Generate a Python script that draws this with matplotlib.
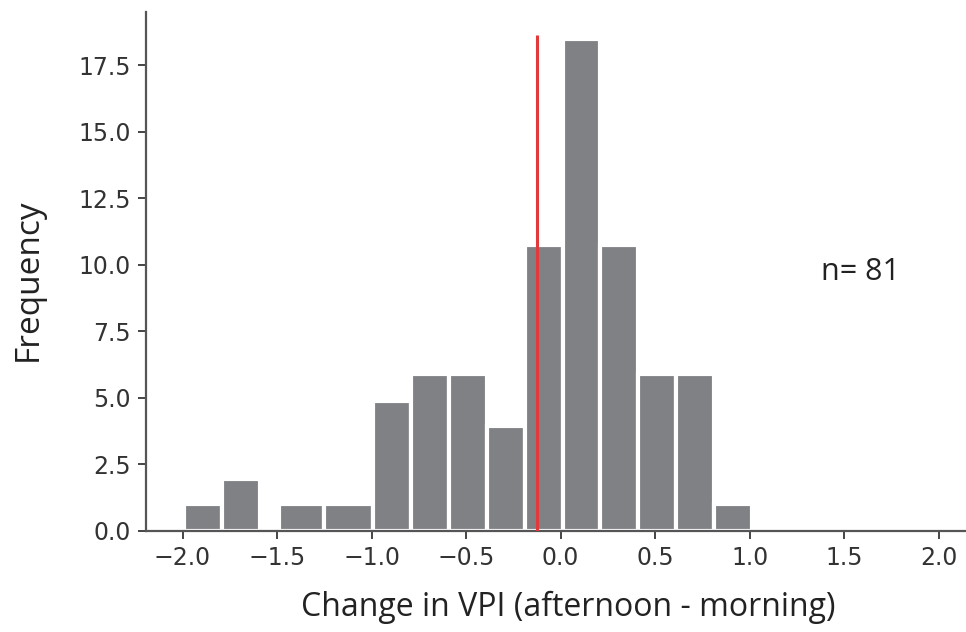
import numpy as np
import matplotlib
matplotlib.use("Agg")
import matplotlib.pyplot as plt

# bin edges of the VPI change histogram and the count in each bin
bin_edges = [-1.99, -1.79, -1.59, -1.49, -1.25, -0.99, -0.79, -0.59, -0.39,
             -0.19, 0.01, 0.21, 0.41, 0.61, 0.81, 1.01]
counts = [1.0, 1.95, 0.0, 1.0, 1.0, 4.9, 5.9, 5.9, 3.95,
          10.75, 18.5, 10.75, 5.9, 5.9, 1.0]
x_ticks = [-2.0, -1.5, -1.0, -0.5, 0.0, 0.5, 1.0, 1.5, 2.0]
y_ticks = [0.0, 2.5, 5.0, 7.5, 10.0, 12.5, 15.0, 17.5]

mean_change = -0.124
mean_line_top = 18.65
n_samples = 81

plt.rcParams["font.family"] = ["DejaVu Sans"]

fig = plt.figure(figsize=(9.66, 6.32), dpi=100)
ax = fig.add_axes([0.151, 0.160, 0.848, 0.821])

edges = np.array(bin_edges)
ax.hist(edges[:-1], bins=edges, weights=counts, color="#808185",
        edgecolor="white", linewidth=3.0)
ax.vlines(mean_change, 0, mean_line_top, color="#e2393b", linewidth=2.2, zorder=3)

ax.set_xlim(-2.194, 2.139)
ax.set_ylim(0, 19.51)
ax.set_xticks(x_ticks)
ax.set_yticks(y_ticks)
ax.set_xticklabels([f"{t:.1f}".replace("-", "\u2212") for t in x_ticks])
ax.set_yticklabels([f"{t:.1f}" for t in y_ticks])

for spine in ["top", "right"]:
    ax.spines[spine].set_visible(False)
for spine in ["left", "bottom"]:
    ax.spines[spine].set_color("#555555")
    ax.spines[spine].set_linewidth(1.6)

ax.tick_params(axis="both", direction="out", length=6, width=1.4,
               color="#444444", labelcolor="#333333", labelsize=17, pad=5)

ax.set_xlabel("Change in VPI (afternoon - morning)", family="Open Sans",
              fontsize=23, color="#222222")
ax.set_ylabel("Frequency", family="Open Sans", fontsize=24, color="#222222")
ax.xaxis.set_label_coords(0.516, -0.115)
ax.yaxis.set_label_coords(-0.123, 0.484)

ax.text(1.375, 9.74, f"n= {n_samples}", family="Open Sans", fontsize=22,
        color="#222222", ha="left", va="center")

plt.savefig("out.png", dpi=100)
plt.close(fig)
